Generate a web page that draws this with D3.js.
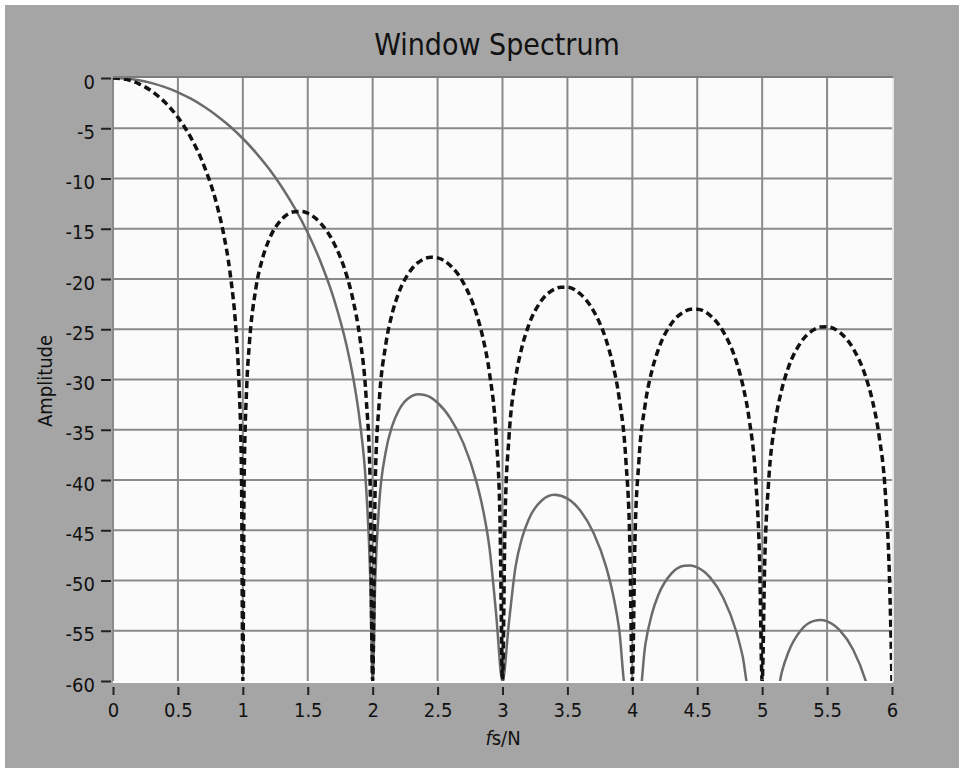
<!DOCTYPE html>
<html>
<head>
<meta charset="utf-8">
<script src="https://cdn.jsdelivr.net/npm/d3@7"></script>
<style>
  html,body{margin:0;padding:0;background:#fff;}
  svg{display:block;}
  svg text{font-family:"DejaVu Sans Condensed","DejaVu Sans",sans-serif;fill:#111;}
  .tick text{font-size:20px;}
</style>
</head>
<body>
<svg id="chart" width="964" height="773"></svg>
<script>
'use strict';

// tick values
var xTicks=[0,0.5,1,1.5,2,2.5,3,3.5,4,4.5,5,5.5,6]
  , yTicks=[0,-5,-10,-15,-20,-25,-30,-35,-40,-45,-50,-55,-60]

// rectangular window (dashed)
var rectX=[0,0.1,0.2,0.3,0.4,0.5,0.6,0.7,0.8,0.85,0.9,0.95,0.97,0.99,1.0,
    1.01,1.03,1.05,1.1,1.15,1.2,1.3,1.4,1.45,1.5,1.6,1.7,1.8,1.85,1.9,1.95,1.98,2.0,
    2.02,2.05,2.1,2.15,2.2,2.3,2.4,2.45,2.5,2.6,2.7,2.8,2.85,2.9,2.95,2.98,3.0,
    3.02,3.05,3.1,3.15,3.2,3.3,3.4,3.45,3.5,3.6,3.7,3.8,3.85,3.9,3.95,3.98,4.0,
    4.02,4.05,4.1,4.15,4.2,4.3,4.4,4.45,4.5,4.6,4.7,4.8,4.85,4.9,4.95,4.98,5.0,
    5.02,5.05,5.1,5.15,5.2,5.3,5.4,5.45,5.5,5.6,5.7,5.8,5.85,5.9,5.95,5.98,6.0]
  , rectDb=[0,-0.14,-0.58,-1.33,-2.42,-3.92,-5.94,-8.69,-12.62,-15.39,-19.23,-25.61,-30.2,-39.9,-60,
    -40.1,-30.7,-26.5,-20.97,-18.02,-16.14,-14.06,-13.3,-13.28,-13.46,-14.46,-16.39,-19.66,-22.15,-25.72,-31.86,-39.9,-60,
    -40.1,-32.29,-26.59,-23.45,-21.41,-19.02,-17.98,-17.83,-17.9,-18.68,-20.41,-23.5,-25.9,-29.39,-35.45,-43.5,-60,
    -43.6,-35.75,-29.97,-26.77,-24.66,-22.15,-21.01,-20.81,-20.82,-21.5,-23.15,-26.15,-28.51,-31.96,-37.99,-45.98,-60,
    -46.07,-38.21,-32.4,-29.16,-27.02,-24.45,-23.25,-23.02,-23.01,-23.63,-25.23,-28.18,-30.52,-33.95,-39.95,-47.93,-60,
    -48.0,-40.12,-34.29,-31.04,-28.88,-26.27,-25.03,-24.78,-24.75,-25.34,-26.9,-29.83,-32.15,-35.56,-41.55,-49.52,-60]

// hanning window (solid)
var hannX=[0,0.1,0.2,0.3,0.4,0.5,0.6,0.7,0.8,0.9,1.0,1.1,1.2,1.3,1.4,1.5,1.6,1.7,1.8,1.85,1.9,1.95,1.98,2.0,
    2.02,2.05,2.1,2.15,2.2,2.3,2.35,2.4,2.5,2.6,2.7,2.8,2.85,2.9,2.95,3.0,
    3.05,3.1,3.15,3.2,3.3,3.4,3.5,3.6,3.7,3.8,3.85,3.9,3.95,
    4.05,4.1,4.15,4.2,4.3,4.4,4.45,4.5,4.6,4.7,4.8,4.85,4.9,
    5.1,5.15,5.2,5.3,5.4,5.45,5.5,5.6,5.7,5.8,5.85]
  , hannDb=[0,-0.06,-0.22,-0.51,-0.91,-1.42,-2.06,-2.84,-3.75,-4.8,-6.02,-7.42,-9.01,-10.84,-12.95,-15.4,-18.33,-21.92,-26.67,-29.83,-34.05,-40.81,-49.2,-60,
    -49.86,-42.4,-37.24,-34.63,-33.1,-31.66,-31.48,-31.54,-32.31,-33.89,-36.38,-40.21,-42.95,-46.79,-53.19,-60,
    -54.13,-48.67,-45.78,-43.97,-42.06,-41.48,-41.85,-43.06,-45.22,-48.72,-51.32,-55.02,-61.28,
    -61.96,-56.38,-53.37,-51.45,-49.31,-48.53,-48.5,-48.7,-49.72,-51.71,-55.05,-57.57,-61.19,
    -62.26,-59.18,-57.19,-54.92,-54.02,-53.94,-54.07,-54.99,-56.86,-60.1,-62.6]

var svg=d3.select('#chart')
  , L=113, R=892, T=78, B=681

var x=d3.scaleLinear().domain([0,6]).range([L,R])
  , y=d3.scaleLinear().domain([-60,0]).range([B,T])

// panel
svg.append('rect')
    .attr('x',5).attr('y',5)
    .attr('width',954).attr('height',763)
    .attr('fill','#a5a5a5');

svg.append('defs').append('clipPath')
    .attr('id','plotclip')
  .append('rect')
    .attr('x',L).attr('y',T)
    .attr('width',R-L).attr('height',B-T);

svg.append('rect')
    .attr('x',L).attr('y',T)
    .attr('width',R-L).attr('height',B-T)
    .attr('fill','#fbfbfb');

// grid
var grid=svg.append('g').attr('stroke','#8a8a8a').attr('stroke-width',2);
grid.selectAll('line.gx')
    .data(xTicks.slice(1,-1))
    .enter().append('line')
    .attr('class','gx')
    .attr('x1',function(d){return x(d)}).attr('x2',function(d){return x(d)})
    .attr('y1',T).attr('y2',B);
grid.selectAll('line.gy')
    .data(yTicks.slice(1,-1))
    .enter().append('line')
    .attr('class','gy')
    .attr('x1',L).attr('x2',R)
    .attr('y1',function(d){return y(d)}).attr('y2',function(d){return y(d)});

// frame edges
svg.append('line').attr('x1',L).attr('x2',R+1).attr('y1',T-1).attr('y2',T-1)
    .attr('stroke','#7c7c7c').attr('stroke-width',2);
svg.append('line').attr('x1',L).attr('x2',L).attr('y1',T).attr('y2',B)
    .attr('stroke','#8a8a8a').attr('stroke-width',2);
svg.append('line').attr('x1',L).attr('x2',R+1).attr('y1',B+1).attr('y2',B+1)
    .attr('stroke','#ffffff').attr('stroke-width',2);
svg.append('line').attr('x1',R+1).attr('x2',R+1).attr('y1',T).attr('y2',B+1)
    .attr('stroke','#e8e8e8').attr('stroke-width',2);

// curves
var plot=svg.append('g').attr('clip-path','url(#plotclip)');

var rect=rectX.map(function(d,i){return [d,rectDb[i]]})
  , hann=hannX.map(function(d,i){return [d,hannDb[i]]})

var line=d3.line()
    .x(function(d){return x(d[0])})
    .y(function(d){return y(d[1])})
    .curve(d3.curveMonotoneX);

plot.append('path')
    .datum(hann)
    .attr('d',line)
    .attr('fill','none')
    .attr('stroke','#6b6b6b')
    .attr('stroke-width',2.5);

plot.append('path')
    .datum(rect)
    .attr('d',line)
    .attr('fill','none')
    .attr('stroke','#111')
    .attr('stroke-width',3.5)
    .attr('stroke-dasharray','7,4');

// axes
var xAxis=d3.axisBottom(x).tickValues(xTicks).tickSize(8).tickPadding(8)
    .tickFormat(function(d){return String(d)});
var yAxis=d3.axisLeft(y).tickValues(yTicks).tickSize(10).tickPadding(6)
    .tickFormat(function(d){return String(d)});

var gx=svg.append('g').attr('transform','translate(0,'+(B+6)+')').call(xAxis);
var gy=svg.append('g').attr('transform','translate('+(L-2)+',0)').call(yAxis);
[gx,gy].forEach(function(g){
    g.select('.domain').remove();
    g.selectAll('.tick line').attr('stroke','#222').attr('stroke-width',2);
});
gy.selectAll('.tick text').attr('dy','0.5em');

// titles
svg.append('text')
    .attr('x',497).attr('y',55)
    .attr('text-anchor','middle')
    .attr('font-size',30)
    .text('Window Spectrum');

svg.append('text')
    .attr('transform','translate(52,381) rotate(-90)')
    .attr('text-anchor','middle')
    .attr('font-size',20)
    .text('Amplitude');

var xl=svg.append('text')
    .attr('x',503).attr('y',745)
    .attr('text-anchor','middle')
    .attr('font-size',20);
xl.append('tspan').attr('font-style','italic').text('f');
xl.append('tspan').text('s/N');
</script>
</body>
</html>
